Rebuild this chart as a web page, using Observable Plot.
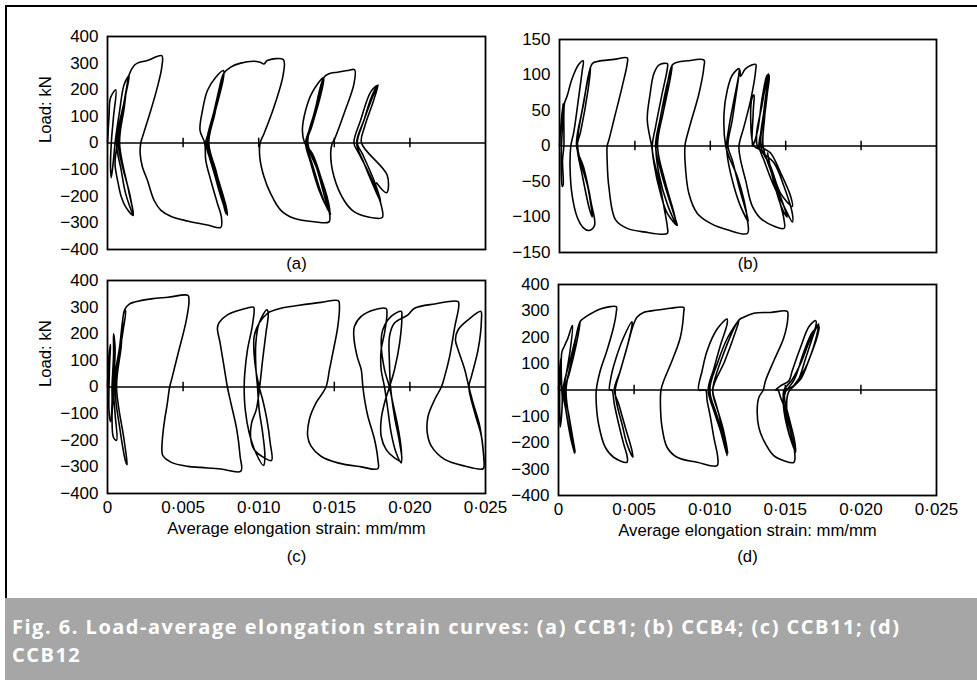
<!DOCTYPE html>
<html>
<head>
<meta charset="utf-8">
<script src="https://cdn.jsdelivr.net/npm/d3@7"></script>
<script src="https://cdn.jsdelivr.net/npm/@observablehq/plot@0.6"></script>
<style>
  html, body { margin: 0; padding: 0; background: #fff; }
  #root { position: relative; width: 977px; height: 680px; overflow: hidden; background: #fff; }
  .frame { position: absolute; left: 5px; top: 5px; width: 980px; height: 593px; border-top: 2px solid #000; border-left: 2px solid #000; box-sizing: border-box; }
  .panel { position: absolute; }
  .caption { position: absolute; left: 5px; top: 598px; width: 972px; height: 82px; background: #a6a6a6; }
  .cap-line { position: absolute; left: 7px; color: #fff; font-family: "Open Sans", "Lato", sans-serif; font-weight: 700;
    font-size: 20px; line-height: 22px; height: 22px; letter-spacing: 1.5px; font-variant-ligatures: none; white-space: nowrap; }
</style>
</head>
<body>
<div id="root">
  <div class="frame"></div>
  <div class="panel" id="pa" style="left:0;top:0"></div>
  <div class="panel" id="pb" style="left:490px;top:0"></div>
  <div class="panel" id="pc" style="left:0;top:270px"></div>
  <div class="panel" id="pd" style="left:490px;top:270px"></div>
  <div class="caption">
    <div class="cap-line" style="top:18px">Fig. 6. Load-average elongation strain curves: (a) CCB1; (b) CCB4; (c) CCB11; (d)</div>
    <div class="cap-line" style="top:46px">CCB12</div>
  </div>
</div>
<script>
// ---- axis values ----
const xTicks = [0, 0.005, 0.010, 0.015, 0.020, 0.025];
const xTickLabels = ["0", "0·005", "0·010", "0·015", "0·020", "0·025"];
const zeroLineTicks = [0.005, 0.010, 0.015, 0.020];
const yTicks400 = [-400, -300, -200, -100, 0, 100, 200, 300, 400];
const yTickLabels400 = ["−400", "−300", "−200", "−100", "0", "100", "200", "300", "400"];
const yTicks150 = [-150, -100, -50, 0, 50, 100, 150];
const yTickLabels150 = ["−150", "−100", "−50", "0", "50", "100", "150"];
const xAxisTitle = "Average elongation strain: mm/mm";
const yAxisTitle = "Load: kN";

// ---- (a) CCB1: [strain, load kN] ----
const ccb1 = [
  [0,0],[0.0001,100],[0.0002,170],[0.00055,200],[0.0004,100],[0.00025,0],[0.0002,-90],[0.00025,-130],[0.0004,-60],[0.0005,0],
  [0.0008,120],[0.0011,220],[0.00143,253],[0.0012,180],[0.0006,0],[0.0009,-100],[0.0012,-190],[0.0017,-270],[0.0015,-200],[0.0007,0],
  [0.001,120],[0.0014,250],[0.0011,150],[0.00065,0],[0.0005,-80],[0.0007,-150],[0.0009,-200],[0.0012,-240],[0.0017,-272],[0.0014,-180],[0.0008,0],[0.0011,130],[0.00143,256],
  [0.00176,291],[0.00198,300],[0.00264,310],[0.00359,328],[0.00359,285],[0.0033,210],[0.00286,122],[0.00231,22],[0.0022,0],[0.00216,-40],[0.00231,-90],[0.00264,-140],[0.00308,-215],[0.00352,-252],[0.00418,-275],[0.00529,-293],[0.00661,-308],[0.00749,-317],[0.00753,-277],[0.00727,-227],[0.00683,-140],[0.0065,-65],[0.00643,0],
  [0.00612,47],[0.00628,122],[0.00661,197],[0.00716,247],[0.00767,272],[0.00767,245],[0.00727,150],[0.00683,60],[0.0065,0],[0.00672,-50],[0.00705,-112],[0.00749,-200],[0.00793,-271],[0.00785,-240],[0.00727,-127],[0.00672,-30],[0.00655,0],[0.00705,120],[0.00761,255],[0.00755,225],[0.0071,120],[0.0066,0],[0.00705,-100],[0.0075,-190],[0.00782,-265],[0.00772,-230],[0.0072,-110],[0.0067,0],[0.0071,110],[0.00767,260],
  [0.00815,285],[0.00881,300],[0.00969,307],[0.01009,303],[0.01035,297],[0.01057,310],[0.01163,313],[0.01163,260],[0.01101,135],[0.01035,35],[0.01009,0],[0.01007,-52],[0.01035,-127],[0.01079,-190],[0.01145,-252],[0.01233,-283],[0.01366,-296],[0.01465,-296],[0.01465,-252],[0.0141,-127],[0.01355,-40],[0.01304,0],
  [0.01289,47],[0.0131,122],[0.01355,191],[0.01427,245],[0.0142,210],[0.01377,122],[0.01333,47],[0.0131,0],[0.01344,-75],[0.01399,-177],[0.01465,-258],[0.01476,-268],[0.01443,-215],[0.01388,-102],[0.01322,0],[0.01366,110],[0.01432,240],[0.0141,180],[0.0135,60],[0.01316,0],[0.0136,-90],[0.0142,-200],[0.0147,-262],[0.0146,-220],[0.014,-110],[0.01325,0],[0.0137,115],[0.01432,247],
  [0.01465,260],[0.0152,266],[0.01586,272],[0.01634,275],[0.0163,222],[0.01564,110],[0.01498,10],[0.01487,0],[0.01476,-40],[0.01498,-127],[0.01564,-215],[0.0163,-258],[0.01718,-277],[0.01817,-280],[0.01813,-240],[0.0174,-127],[0.01663,-40],[0.0163,0],
  [0.01674,85],[0.0174,191],[0.01784,216],[0.01751,170],[0.01696,85],[0.01648,0],[0.01696,-75],[0.01762,-165],[0.01806,-220],[0.01762,-140],[0.01685,-40],[0.01652,0],[0.01696,85],[0.01751,180],[0.0179,218],[0.0176,160],[0.017,60],[0.0168,0],[0.0185,-121],[0.01846,-187],[0.0178,-150]
];

// ---- (b) CCB4 ----
const ccb4 = [
  [0,0],[0.0001,30],[0.00024,60],[0.0002,30],[0.00013,0],[0.00011,-20],[0.00018,-57],[0.00024,-55],[0.0002,-20],[0.00029,0],[0.00033,60],[0.0005,70],[0.00084,95],[0.00128,115],[0.00157,120],[0.0015,105],[0.00128,70],[0.00095,20],[0.00075,0],[0.0007,-30],[0.00084,-70],[0.00117,-100],[0.00157,-115],[0.00195,-119],[0.00232,-112],[0.0021,-80],[0.0016,-30],[0.00113,0],[0.0015,50],[0.00206,112],[0.0019,80],[0.0014,20],[0.00117,0],[0.0015,-40],[0.002,-90],[0.00217,-100],[0.0019,-60],[0.0012,0],[0.0016,60],[0.00217,116],
  [0.0025,119],[0.00361,122],[0.00449,124],[0.00449,116],[0.00416,84],[0.00361,37],[0.00327,8],[0.00316,0],[0.00316,-20],[0.00327,-57],[0.00372,-104],[0.00449,-116],[0.0056,-121],[0.00715,-123],[0.00715,-114],[0.00692,-85],[0.00659,-48],[0.00626,-20],[0.00611,0],
  [0.00582,37],[0.006,72],[0.00626,102],[0.00659,114],[0.00715,116],[0.00715,109],[0.00681,74],[0.00637,27],[0.00615,0],[0.00626,-24],[0.0067,-67],[0.00715,-95],[0.00781,-112],[0.0077,-104],[0.00715,-67],[0.0067,-34],[0.00637,0],[0.0067,41],[0.00715,88],[0.00748,112],[0.0073,90],[0.0068,40],[0.0064,0],[0.0066,-40],[0.0072,-85],[0.00775,-110],[0.0076,-95],[0.007,-50],[0.0065,0],[0.0069,50],[0.00748,114],
  [0.00781,118],[0.00847,120],[0.00958,121],[0.00958,112],[0.00925,74],[0.00869,32],[0.00836,6],[0.00832,0],[0.00832,-20],[0.00858,-67],[0.00914,-95],[0.01002,-109],[0.01113,-118],[0.01246,-123],[0.01246,-104],[0.01223,-76],[0.01179,-43],[0.01124,-15],[0.01102,0],
  [0.01091,46],[0.01113,79],[0.01146,100],[0.0119,109],[0.0119,102],[0.01157,65],[0.01124,27],[0.01108,0],[0.01117,-20],[0.01157,-57],[0.01201,-85],[0.01252,-106],[0.01234,-90],[0.0119,-57],[0.01146,-20],[0.01117,0],[0.01146,37],[0.01179,84],[0.01197,107],[0.01201,98],[0.01234,109],[0.01301,115],[0.01301,107],[0.01268,65],[0.01223,27],[0.0119,0],
  [0.01201,-20],[0.01234,-48],[0.01279,-85],[0.01345,-104],[0.01489,-116],[0.01489,-104],[0.01445,-67],[0.014,-34],[0.0135,-8],[0.0129,0],
  [0.01268,37],[0.01279,69],[0.0129,72],[0.01285,50],[0.0128,0],[0.01312,20],[0.01345,69],[0.01378,100],[0.01389,100],[0.01378,74],[0.01356,37],[0.01323,0],[0.01356,-20],[0.01423,-57],[0.01489,-85],[0.01544,-107],[0.01544,-95],[0.01489,-57],[0.01423,-24],[0.01312,0],[0.01345,60],[0.01385,102],[0.01356,50],[0.01334,0],[0.014,-29],[0.01467,-67],[0.01544,-85],[0.01533,-71],[0.01467,-38],[0.014,-10],[0.0134,0],[0.0136,50],[0.0138,95],[0.0136,40],[0.0135,0],[0.0141,-40],[0.0148,-80],[0.0151,-100],[0.0148,-90],[0.0142,-50],[0.0138,-10]
];

// ---- (c) CCB11 ----
const ccb11 = [
  [0,0],[0.0001,120],[0.0002,160],[0.00015,100],[0.0001,0],[0.0001,-90],[0.0002,-130],[0.0003,-60],[0.0003,0],[0.0004,120],[0.0004,200],[0.0005,150],[0.0004,0],[0.0003,-120],[0.0004,-190],[0.0006,-200],[0.0005,-100],[0.0004,0],[0.0008,150],[0.0011,280],[0.0012,287],[0.001,200],[0.0005,0],[0.0008,-150],[0.0012,-280],[0.0013,-292],[0.0011,-200],[0.0006,0],[0.0009,150],[0.00113,290],
  [0.00146,312],[0.00179,319],[0.00289,331],[0.004,337],[0.00532,344],[0.00539,325],[0.00521,250],[0.00466,124],[0.00422,24],[0.00411,0],[0.00395,-64],[0.00377,-127],[0.00364,-189],[0.0036,-240],[0.00366,-258],[0.00422,-283],[0.00532,-298],[0.00617,-302],[0.00749,-308],[0.00882,-316],
  [0.00877,-260],[0.00855,-160],[0.00816,-60],[0.00793,0],[0.00767,90],[0.00745,165],[0.00727,221],[0.00738,242],[0.00793,271],[0.00882,290],[0.00966,300],[0.0097,290],[0.00957,227],[0.00926,140],[0.00908,52],[0.00904,0],[0.00911,-85],[0.00937,-172],[0.00981,-247],[0.01032,-295],
  [0.01041,-260],[0.01026,-172],[0.01003,-85],[0.00992,0],[0.00981,77],[0.00981,165],[0.01003,240],[0.01054,290],[0.01063,277],[0.01048,202],[0.01026,102],[0.01006,0],[0.00984,-85],[0.00953,-135],[0.00948,-197],[0.0097,-235],[0.01037,-266],[0.01085,-276],[0.01076,-210],[0.01054,-122],[0.01026,-47],[0.01003,0],[0.00975,90],[0.0097,190],[0.01003,240],[0.01059,277],
  [0.01081,284],[0.01147,296],[0.01258,306],[0.01412,318],[0.01527,324],[0.01534,302],[0.01523,227],[0.0149,127],[0.01468,65],[0.01445,0],[0.01379,-60],[0.01335,-122],[0.01324,-185],[0.01346,-222],[0.01412,-260],[0.01523,-285],[0.01678,-300],[0.01788,-307],
  [0.01788,-272],[0.01766,-197],[0.01722,-110],[0.01704,-60],[0.01689,0],[0.01678,65],[0.01651,115],[0.01629,190],[0.01633,227],[0.01678,265],[0.01766,290],[0.01843,294],[0.01848,271],[0.01832,202],[0.0181,140],[0.0181,65],[0.01832,0],[0.01854,-85],[0.01876,-172],[0.01909,-247],[0.01943,-285],
  [0.01943,-235],[0.0192,-147],[0.01887,-60],[0.01865,0],[0.01832,65],[0.0181,165],[0.01821,215],[0.01876,265],[0.01943,284],[0.01947,265],[0.01932,165],[0.01898,65],[0.01865,0],[0.01832,-60],[0.0181,-122],[0.0181,-185],[0.01843,-235],[0.01898,-266],[0.01943,-279],[0.01932,-210],[0.01898,-110],[0.01872,0],[0.01865,90],[0.01865,190],[0.01898,240],[0.01987,271],
  [0.02031,296],[0.02164,312],[0.02319,321],[0.02323,302],[0.02297,227],[0.02263,115],[0.0223,40],[0.02208,0],[0.02164,-47],[0.0212,-110],[0.02115,-172],[0.02142,-222],[0.0223,-272],[0.02363,-297],[0.02484,-307],
  [0.02491,-285],[0.02484,-235],[0.02462,-147],[0.02418,-60],[0.0239,0],[0.02363,65],[0.02319,140],[0.02301,177],[0.02319,215],[0.02385,252],[0.02469,284],[0.02473,252],[0.02451,140],[0.02407,40],[0.0239,0],[0.02429,-97],[0.02473,-185],[0.02491,-285]
];

// ---- (d) CCB12 ----
const ccb12 = [
  [0,0],[0.00011,99],[0.00015,118],[0.00013,60],[0.00008,0],[0.00008,-80],[0.00011,-141],[0.0002,-100],[0.00025,-30],[0.00022,0],[0.00022,143],[0.00038,165],[0.00055,187],[0.0006,193],[0.00088,240],[0.00093,244],[0.00077,150],[0.00045,40],[0.00033,0],[0.0005,-80],[0.0008,-180],[0.00106,-240],[0.0009,-200],[0.0005,-80],[0.0003,0],[0.0008,120],[0.00144,263],[0.0012,180],[0.0007,60],[0.0004,0],[0.0007,-100],[0.0011,-235],[0.0008,-140],[0.0005,0],[0.0009,120],[0.00144,260],
  [0.00177,276],[0.0021,288],[0.00276,307],[0.00342,316],[0.00382,316],[0.00382,294],[0.00364,238],[0.0032,149],[0.00276,73],[0.0025,0],[0.0025,-53],[0.00265,-129],[0.00309,-217],[0.00364,-255],[0.00453,-274],[0.00453,-249],[0.00431,-205],[0.00398,-129],[0.00369,-53],[0.00353,0],
  [0.00338,0],[0.00347,48],[0.00375,111],[0.00431,200],[0.00486,259],[0.00486,244],[0.00453,162],[0.00409,73],[0.00375,0],[0.00386,-53],[0.0042,-129],[0.00453,-205],[0.00492,-255],[0.00486,-230],[0.00442,-142],[0.00398,-53],[0.00369,0],[0.00409,73],[0.00453,162],[0.00497,250],
  [0.00519,276],[0.00563,294],[0.00652,303],[0.0074,310],[0.00828,313],[0.00828,294],[0.00806,200],[0.00751,111],[0.00696,35],[0.00678,0],[0.00674,-53],[0.00685,-142],[0.00718,-217],[0.00784,-255],[0.00917,-274],[0.01049,-287],[0.01053,-255],[0.01027,-179],[0.01005,-104],[0.00983,-40],[0.00972,0],
  [0.00928,0],[0.0095,73],[0.00983,149],[0.01049,231],[0.01115,269],[0.01115,250],[0.01071,170],[0.01027,80],[0.0099,0],[0.01027,-78],[0.01071,-154],[0.01115,-249],[0.011,-200],[0.0105,-100],[0.01,0],[0.0105,100],[0.0112,200],[0.01193,263],[0.0117,220],[0.011,110],[0.0102,0],[0.0106,-90],[0.0109,-170],[0.0112,-240],[0.0109,-150],[0.0104,-50],[0.0102,0],[0.0108,120],[0.01193,265],
  [0.01226,276],[0.01292,291],[0.01402,294],[0.01513,298],[0.01517,276],[0.01491,200],[0.01424,111],[0.01369,35],[0.01354,0],[0.01325,-28],[0.01314,-78],[0.01325,-142],[0.01358,-192],[0.01424,-249],[0.01491,-268],[0.01557,-274],[0.01561,-230],[0.01535,-154],[0.01502,-78],[0.01469,-28],[0.01451,0],
  [0.01436,0],[0.01469,16],[0.01524,35],[0.01546,73],[0.01601,162],[0.01656,240],[0.01701,263],[0.01701,240],[0.01656,180],[0.01601,100],[0.01546,40],[0.01491,0],[0.01486,-28],[0.01491,-78],[0.01513,-142],[0.01546,-205],[0.01568,-236],[0.01561,-192],[0.01535,-129],[0.01502,-53],[0.01491,-15],[0.0151,0],[0.0156,40],[0.0162,140],[0.0168,220],[0.01723,240],[0.0171,200],[0.0166,120],[0.016,40],[0.0154,10],[0.015,0],[0.015,-60],[0.0152,-150],[0.0156,-225],[0.0154,-170],[0.0151,-80],[0.0152,-10],[0.0158,30],[0.0164,130],[0.017,230],[0.0172,250],[0.017,190],[0.0163,80],[0.0156,20]
];

const FONT = "'Liberation Sans', Arial, Helvetica, sans-serif";

function panel(el, opt) {
  const yMax = opt.yDomain[1];
  const marks = [
    Plot.ruleY([0], {stroke: "#000", strokeWidth: 1.7}),
    Plot.ruleX(zeroLineTicks, {y1: -yMax * 0.045, y2: yMax * 0.045, stroke: "#000", strokeWidth: 1.5}),
    Plot.line(opt.data, {stroke: "#000", strokeWidth: 1.6, curve: "catmull-rom", strokeLinejoin: "round"}),
    Plot.frame({stroke: "#000", strokeWidth: 1.8}),
    Plot.text([opt.tag], {frameAnchor: "bottom", dy: opt.tagDy, fontSize: 16.7})
  ];
  if (opt.ylabel) marks.push(Plot.text([yAxisTitle], {frameAnchor: "left", rotate: -90, dx: -62, fontSize: 16.7}));
  if (opt.xlabel) marks.push(Plot.text([xAxisTitle], {frameAnchor: "bottom", dy: 40, fontSize: 16.7}));
  const chart = Plot.plot({
    width: opt.width, height: opt.height,
    marginLeft: opt.ml, marginRight: opt.mr, marginTop: opt.mt, marginBottom: opt.mb,
    style: {fontFamily: FONT, fontSize: "17px", color: "#000", background: "transparent", overflow: "visible"},
    x: opt.xlabel
      ? {domain: [0, 0.025], ticks: xTicks, tickFormat: d => xTickLabels[xTicks.indexOf(d)], tickSize: 0, tickPadding: 7, label: null}
      : {domain: [0, 0.025], axis: null},
    y: {domain: opt.yDomain, ticks: opt.yTicks, tickFormat: d => opt.yLabels[opt.yTicks.indexOf(d)], tickSize: 0, tickPadding: 9, label: null},
    marks
  });
  document.getElementById(el).appendChild(chart);
}

panel("pa", {data: ccb1, yDomain: [-400, 400], yTicks: yTicks400, yLabels: yTickLabels400, width: 490, height: 290, ml: 107, mr: 5, mt: 36, mb: 41, tag: "(a)", tagDy: 19, ylabel: true, xlabel: false});
panel("pb", {data: ccb4, yDomain: [-150, 150], yTicks: yTicks150, yLabels: yTickLabels150, width: 487, height: 290, ml: 69, mr: 41, mt: 39, mb: 38, tag: "(b)", tagDy: 16, ylabel: false, xlabel: false});
panel("pc", {data: ccb11, yDomain: [-400, 400], yTicks: yTicks400, yLabels: yTickLabels400, width: 490, height: 310, ml: 107, mr: 5, mt: 10, mb: 87, tag: "(c)", tagDy: 68, ylabel: true, xlabel: true});
panel("pd", {data: ccb12, yDomain: [-400, 400], yTicks: yTicks400, yLabels: yTickLabels400, width: 487, height: 310, ml: 68, mr: 41, mt: 14, mb: 85, tag: "(d)", tagDy: 66, ylabel: false, xlabel: true});
</script>
</body>
</html>
